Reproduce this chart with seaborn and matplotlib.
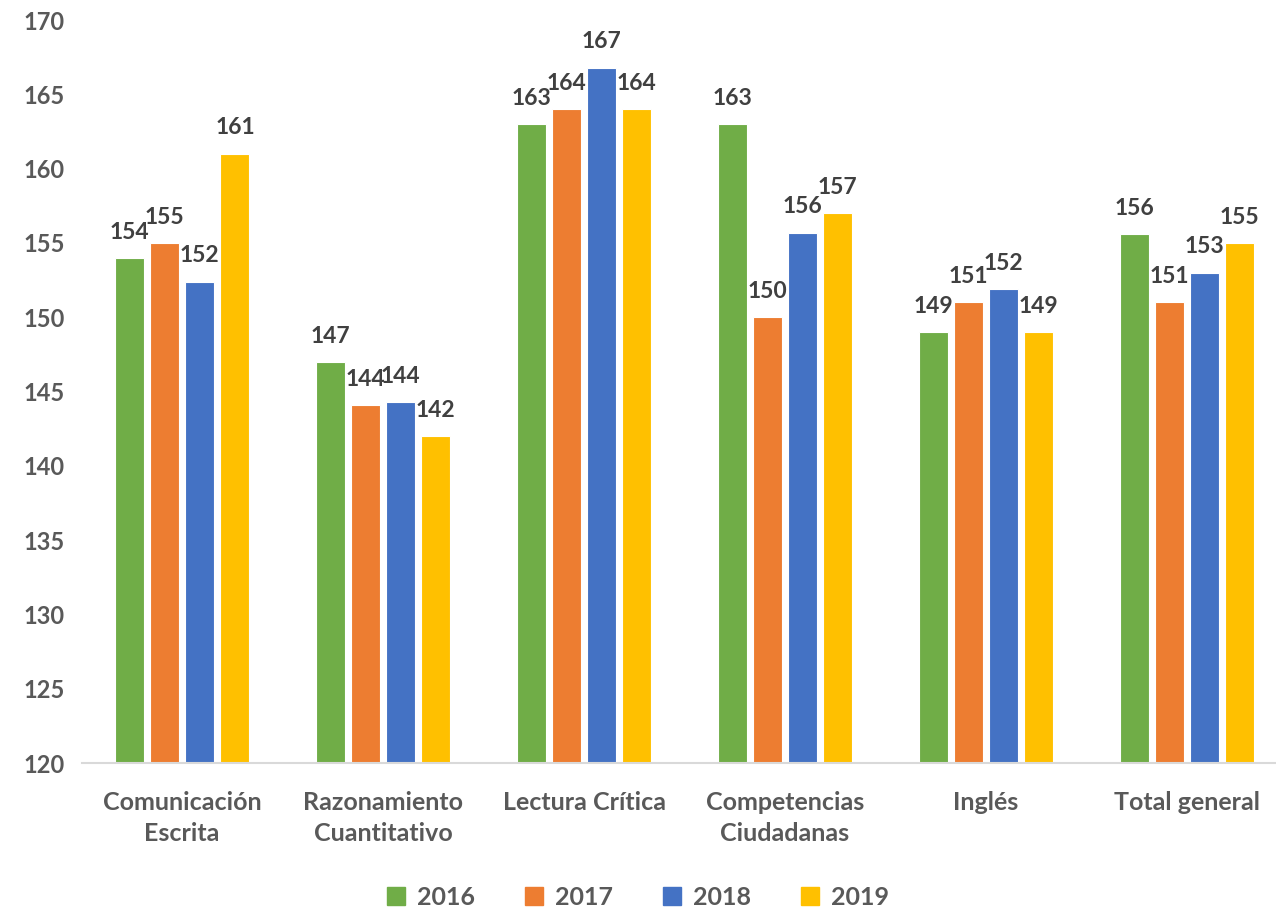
import matplotlib
matplotlib.use("Agg")
import matplotlib.pyplot as plt
import seaborn as sns
import pandas as pd

sns.set_theme(style="white")
plt.rcParams["font.family"] = ["Lato", "DejaVu Sans"]

areas = ["Comunicación\nEscrita", "Razonamiento\nCuantitativo", "Lectura Crítica",
         "Competencias\nCiudadanas", "Inglés", "Total general"]
years = ["2016", "2017", "2018", "2019"]
s2016 = [154.0, 147.0, 163.0, 163.0, 149.0, 155.6]
s2017 = [155.0, 144.1, 164.0, 150.0, 151.0, 151.0]
s2018 = [152.4, 144.3, 166.8, 155.7, 151.9, 153.0]
s2019 = [161.0, 142.0, 164.0, 157.0, 149.0, 155.0]
colors = ["#70AD47", "#ED7D31", "#4472C4", "#FFC000"]

rows = []
for yr, vals in zip(years, [s2016, s2017, s2018, s2019]):
    for a, v in zip(areas, vals):
        rows.append({"area": a, "year": yr, "score": v})
df = pd.DataFrame(rows)

fig = plt.figure(figsize=(12.76, 9.10), dpi=100)
ax = fig.add_axes([0.064, 0.1615, 0.945, 0.8165])
sns.barplot(data=df, x="area", y="score", hue="year", palette=colors,
            order=areas, hue_order=years, width=0.7, gap=0.18, saturation=1,
            edgecolor="white", linewidth=0.8, ax=ax)

ax.set_ylim(120, 170)
ax.set_yticks(range(120, 171, 5))
ax.set_xlabel("")
ax.set_ylabel("")
ax.tick_params(axis="y", length=0, colors="#595959", labelsize=17, pad=12)
ax.tick_params(axis="x", length=0, colors="#595959", labelsize=18, pad=20)
for lab in ax.get_yticklabels():
    lab.set_fontweight("bold")
for lab in ax.get_xticklabels():
    lab.set_fontweight("bold")
    lab.set_linespacing(1.45)
for side in ["top", "right", "left"]:
    ax.spines[side].set_visible(False)
ax.spines["bottom"].set_color("#D9D9D9")
ax.spines["bottom"].set_linewidth(1.5)

for cont in ax.containers:
    ax.bar_label(cont, fmt="%.0f", padding=11, fontsize=16.5, fontweight="bold",
                 color="#404040")

ax.get_legend().remove()
handles = [plt.Rectangle((0, 0), 1, 1, color=c) for c in colors]
fig.legend(handles, years, loc="center", bbox_to_anchor=(0.5, 0.014), ncol=4,
           frameon=False, handlelength=0.7, handleheight=0.7, columnspacing=2.0,
           handletextpad=0.5, prop={"size": 18, "weight": "bold"},
           labelcolor="#595959")

fig.savefig("out.png", dpi=100)
